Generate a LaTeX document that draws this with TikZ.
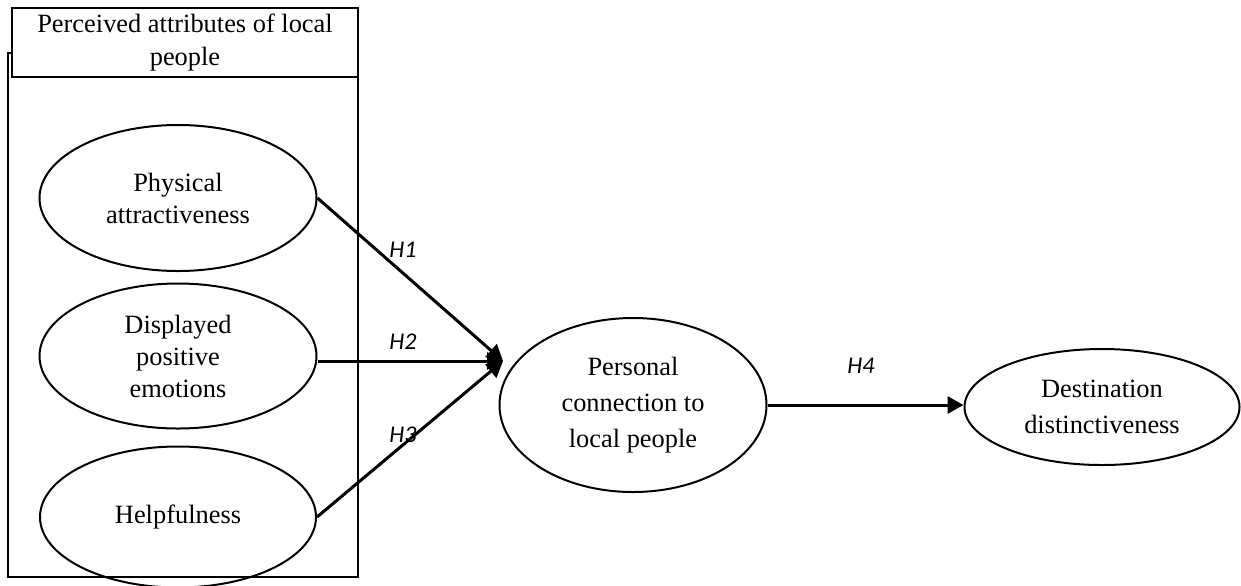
\documentclass[tikz,border=0pt]{standalone}
\usepackage{fontspec}
\setmainfont{Liberation Serif}
\newfontfamily\hypfont{Carlito}
\usetikzlibrary{shapes.geometric,arrows.meta,positioning}

\begin{document}
\begin{tikzpicture}[x=0.5pt, y=-0.5pt, >={Triangle[length=8pt,width=8.5pt]}]
    \tikzstyle{construct} = [draw, ellipse, line width=1pt, inner sep=0pt, align=center, font=\fontsize{13.2}{16}\selectfont]
    \tikzstyle{groupbox} = [draw, line width=1pt]
    \tikzstyle{header} = [draw, fill=white, line width=1pt, inner sep=0pt, align=center, font=\fontsize{13.2}{16.5}\selectfont]
    \tikzstyle{hyp} = [->, line width=1.5pt]
    \tikzstyle{hlabel} = [font=\hypfont\itshape\fontsize{12}{14}\selectfont, inner sep=0pt]

    \useasboundingbox (0,0) rectangle (1241,585);

    % group of perceived attributes
    \node [groupbox, minimum width=175pt, minimum height=262pt] (group) at (183,315) {};
    \node [header, minimum width=173pt, minimum height=34.5pt] (title) at (185,42.5) {Perceived attributes of local\\people};

    \node [construct, minimum width=138.5pt, minimum height=73pt] (phys) at (178,198) {Physical\\attractiveness};
    \node [construct, minimum width=138.5pt, minimum height=72.5pt] (emot) at (178,356) {Displayed\\positive\\emotions};
    \node [construct, minimum width=138pt, minimum height=70.5pt] (help) at (178,517) {Helpfulness};

    \node [construct, minimum width=133.5pt, minimum height=87pt, font=\fontsize{13.2}{18}\selectfont] (conn) at (633,405) {Personal\\connection to\\local people};
    \node [construct, minimum width=137.5pt, minimum height=58pt, font=\fontsize{13.2}{18}\selectfont] (dist) at (1102,407) {Destination\\distinctiveness};

    \coordinate (meet) at (503,361);

    \draw [hyp] (phys.east) -- (meet);
    \draw [hyp] (emot.east |- meet) -- (meet);
    \draw [hyp] (help.east) -- (meet);
    \draw [hyp] (conn.east) -- (conn.east -| dist.west);

    \node [hlabel] (h1) at (403,250) {H1};
    \node [hlabel] (h2) at (403,342) {H2};
    \node [hlabel] (h3) at (403,435) {H3};
    \node [hlabel] (h4) at (861,366) {H4};
\end{tikzpicture}
\end{document}
